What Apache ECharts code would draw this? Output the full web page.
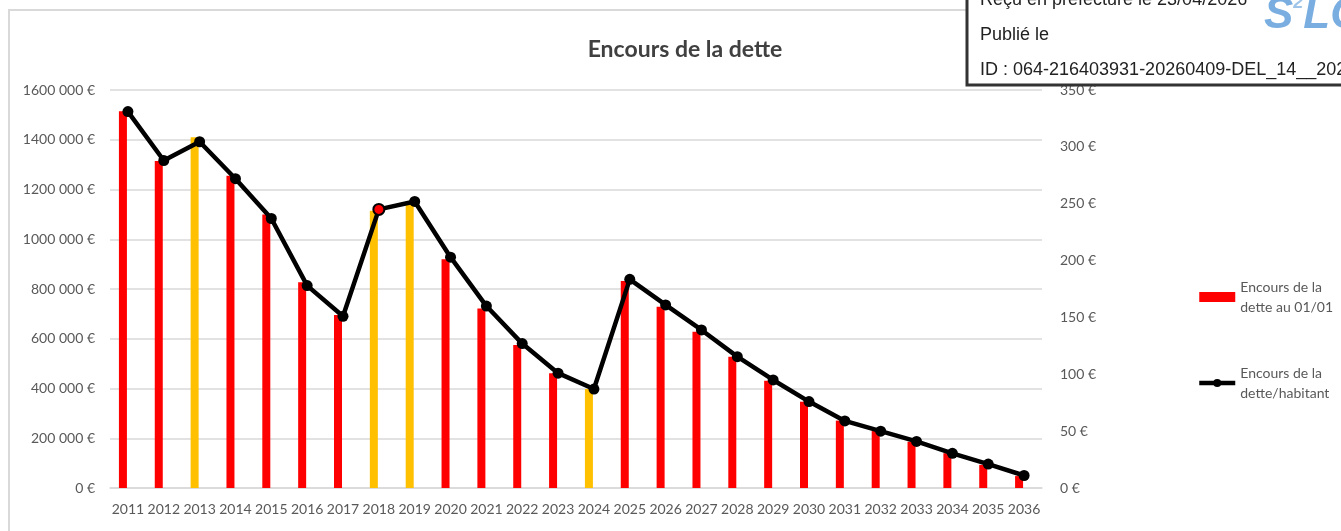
<!DOCTYPE html>
<html>
<head>
<meta charset="utf-8">
<script src="https://cdn.jsdelivr.net/npm/echarts@6/dist/echarts.min.js"></script>
<style>
html, body { margin: 0; padding: 0; background: #fff; }
#chart { width: 1341px; height: 531px; }
</style>
</head>
<body>
<div id="chart"></div>
<script>
// données
var years = ['2011', '2012', '2013', '2014', '2015', '2016', '2017', '2018', '2019', '2020', '2021', '2022', '2023',
	'2024', '2025', '2026', '2027', '2028', '2029', '2030', '2031', '2032', '2033', '2034', '2035', '2036'];
// encours de la dette au 01/01 (€)
var encours = [1515000, 1315000, 1410000, 1255000, 1100000, 827000, 695000, 1115000, 1140000, 920000, 722000, 575000, 461000,
	398000, 832000, 729000, 628000, 528000, 431000, 347000, 271000, 229000, 186000, 140000, 93000, 48000];
// encours de la dette par habitant (€)
var parHabitant = [331, 288, 304.5, 272, 237, 178, 151, 245, 252, 203, 160, 127, 101,
	87, 183.5, 161, 139, 115.5, 95, 76, 59, 50, 41, 30.5, 21, 11];
// années dont la barre est en orange
var anneesOrange = ['2013', '2018', '2019', '2024'];
// point de la courbe avec un marqueur rouge
var anneeMarqueurRouge = '2018';

var leftTicks = { min: 0, max: 1600000, interval: 200000 };
var rightTicks = { min: 0, max: 350, interval: 50 };

var nomBarre = 'Encours de la\ndette au 01/01';
var nomLigne = 'Encours de la\ndette/habitant';

var chart = echarts.init(document.getElementById('chart'));

var barData = encours.map(function(v, i) {
	return {
		value: v,
		itemStyle: { color: anneesOrange.indexOf(years[i]) > -1 ? '#FFC000' : '#FF0000' }
	};
});
var lineData = parHabitant.map(function(v, i) {
	if (years[i] === anneeMarqueurRouge) {
		return { value: v, itemStyle: { color: '#FF0000', borderColor: '#000', borderWidth: 2 } };
	}
	return v;
});
// série vide pour décaler les barres comme dans Excel
var vide = years.map(function() { return '-'; });

var fontAxe = 'Lato, "Open Sans", sans-serif';
var fontTampon = '18px "Liberation Sans", Arial, sans-serif';

function fmtEuro(v) {
	if (v === 0) return '0 €';
	return Math.floor(v / 1000) + ' 000 €';
}

var option = {
	animation: false,
	textStyle: { fontFamily: fontAxe },
	title: {
		text: 'Encours de la dette',
		left: 680,
		top: 33,
		textAlign: 'center',
		textStyle: { fontFamily: fontAxe, fontSize: 23, fontWeight: 'bold', color: '#404040' }
	},
	legend: {
		orient: 'vertical',
		left: 1197,
		top: 267,
		padding: 0,
		itemGap: 26,
		itemWidth: 36,
		itemHeight: 10,
		data: [
			{ name: nomBarre, icon: 'rect' },
			{ name: nomLigne, lineStyle: { width: 4.5 } }
		],
		textStyle: { fontFamily: fontAxe, fontSize: 14, color: '#595959', lineHeight: 20, padding: [20, 0, 0, 0] }
	},
	grid: { left: 110, right: 299, top: 90, bottom: 43 },
	xAxis: {
		type: 'category',
		data: years,
		axisTick: { show: false },
		axisLine: { lineStyle: { color: '#d9d9d9', width: 1.5 } },
		axisLabel: { interval: 0, margin: 14, color: '#595959', fontSize: 14, fontFamily: fontAxe }
	},
	yAxis: [{
		type: 'value',
		min: leftTicks.min,
		max: leftTicks.max,
		interval: leftTicks.interval,
		axisLine: { show: false },
		axisTick: { show: false },
		axisLabel: { margin: 15, color: '#595959', fontSize: 14, fontFamily: fontAxe, formatter: fmtEuro },
		splitLine: { lineStyle: { color: '#d9d9d9', width: 1.5 } }
	}, {
		type: 'value',
		min: rightTicks.min,
		max: rightTicks.max,
		interval: rightTicks.interval,
		position: 'right',
		axisLine: { show: false },
		axisTick: { show: false },
		axisLabel: { margin: 18, color: '#595959', fontSize: 14, fontFamily: fontAxe, formatter: '{value} €' },
		splitLine: { show: false }
	}],
	series: [{
		name: nomBarre,
		type: 'bar',
		barWidth: 8,
		barGap: '25%',
		itemStyle: { color: '#FF0000' },
		data: barData
	}, {
		name: 'vide',
		type: 'bar',
		barWidth: 8,
		data: vide
	}, {
		name: nomLigne,
		type: 'line',
		yAxisIndex: 1,
		symbol: 'circle',
		symbolSize: 11,
		itemStyle: { color: '#000' },
		lineStyle: { color: '#000', width: 4.5 },
		data: lineData,
		z: 3
	}],
	graphic: [{
		type: 'rect',
		shape: { x: 9, y: 10, width: 1400, height: 600 },
		style: { fill: null, stroke: '#d9d9d9', lineWidth: 2 },
		z: -10
	}, {
		type: 'rect',
		shape: { x: 967, y: -20, width: 400, height: 105 },
		style: { fill: '#fff', stroke: '#333', lineWidth: 3 },
		z: 10
	}, {
		type: 'text',
		x: 980, y: 0,
		style: { text: 'Reçu en préfecture le 23/04/2026', fill: '#222', font: fontTampon, verticalAlign: 'middle' },
		z: 11
	}, {
		type: 'text',
		x: 980, y: 35,
		style: { text: 'Publié le', fill: '#222', font: fontTampon, verticalAlign: 'middle' },
		z: 11
	}, {
		type: 'text',
		x: 980, y: 70,
		style: { text: 'ID : 064-216403931-20260409-DEL_14__2026-DE', fill: '#222', font: fontTampon, verticalAlign: 'middle' },
		z: 11
	}, {
		type: 'text',
		x: 1264, y: 16,
		style: {
			text: '{s|S}{e|2}{s|LO}',
			verticalAlign: 'middle',
			rich: {
				s: { fill: '#7aaee0', font: 'italic bold 44px "Liberation Sans", Arial, sans-serif' },
				e: { fill: '#9fc4ea', font: 'italic bold 18px "Liberation Sans", Arial, sans-serif', verticalAlign: 'top', padding: [0, 0, 16, 0] }
			}
		},
		z: 11
	}]
};
chart.setOption(option);
</script>
</body>
</html>
